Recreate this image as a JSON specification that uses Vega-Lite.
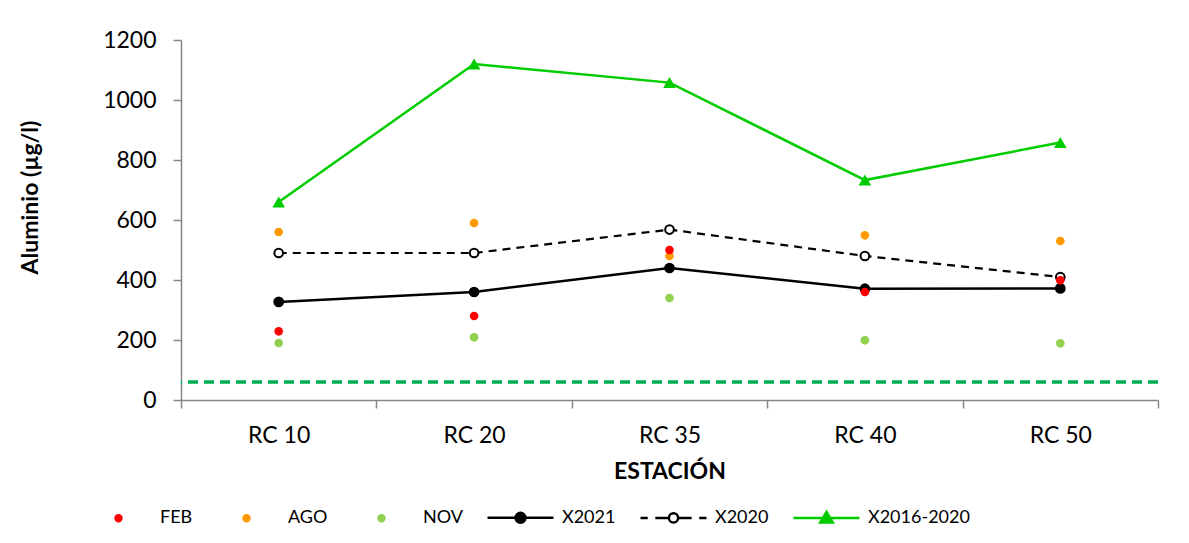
{
  "$schema": "https://vega.github.io/schema/vega-lite/v6.json",
  "width": 977,
  "height": 360,
  "autosize": {"type": "none"},
  "padding": {"left": 181, "top": 40, "right": 31, "bottom": 143},
  "background": "white",
  "config": {
    "font": "Lato",
    "view": {"stroke": null},
    "axis": {
      "domainColor": "#868686",
      "domainWidth": 1.5,
      "tickColor": "#868686",
      "tickWidth": 1.5,
      "tickSize": 8,
      "grid": false,
      "labelColor": "#000000",
      "labelFont": "Lato",
      "labelFontSize": 23,
      "titleColor": "#000000",
      "titleFont": "Lato",
      "titleFontSize": 23,
      "titleFontWeight": "bold"
    },
    "axisX": {"labelAngle": 0, "labelPadding": 16, "titlePadding": 13, "tickBand": "extent"},
    "axisY": {"labelPadding": 17, "titlePadding": 60, "titleY": 157}
  },
  "data": {
    "values": [
      {"station": "RC 10", "series": "FEB", "value": 229},
      {"station": "RC 20", "series": "FEB", "value": 280},
      {"station": "RC 35", "series": "FEB", "value": 500},
      {"station": "RC 40", "series": "FEB", "value": 360},
      {"station": "RC 50", "series": "FEB", "value": 399},
      {"station": "RC 10", "series": "AGO", "value": 560},
      {"station": "RC 20", "series": "AGO", "value": 590},
      {"station": "RC 35", "series": "AGO", "value": 480},
      {"station": "RC 40", "series": "AGO", "value": 549},
      {"station": "RC 50", "series": "AGO", "value": 530},
      {"station": "RC 10", "series": "NOV", "value": 190},
      {"station": "RC 20", "series": "NOV", "value": 209},
      {"station": "RC 35", "series": "NOV", "value": 340},
      {"station": "RC 40", "series": "NOV", "value": 199},
      {"station": "RC 50", "series": "NOV", "value": 189},
      {"station": "RC 10", "series": "X2021", "value": 327},
      {"station": "RC 20", "series": "X2021", "value": 360},
      {"station": "RC 35", "series": "X2021", "value": 440},
      {"station": "RC 40", "series": "X2021", "value": 371},
      {"station": "RC 50", "series": "X2021", "value": 372},
      {"station": "RC 10", "series": "X2020", "value": 490},
      {"station": "RC 20", "series": "X2020", "value": 490},
      {"station": "RC 35", "series": "X2020", "value": 568},
      {"station": "RC 40", "series": "X2020", "value": 480},
      {"station": "RC 50", "series": "X2020", "value": 410},
      {"station": "RC 10", "series": "X2016-2020", "value": 660},
      {"station": "RC 20", "series": "X2016-2020", "value": 1120},
      {"station": "RC 35", "series": "X2016-2020", "value": 1058},
      {"station": "RC 40", "series": "X2016-2020", "value": 733},
      {"station": "RC 50", "series": "X2016-2020", "value": 858}
    ]
  },
  "layer": [
    {
      "data": {"values": [{"limite": 60}]},
      "mark": {"type": "rule", "color": "#00B050", "strokeWidth": 3.5, "strokeDash": [10, 6]},
      "encoding": {
        "y": {"field": "limite", "type": "quantitative", "title": "Aluminio (µg/l)", "scale": {"domain": [0, 1200], "nice": false}, "axis": {"values": [0, 200, 400, 600, 800, 1000, 1200], "format": "d"}}
      }
    },
    {
      "transform": [{"filter": "datum.series === 'X2016-2020'"}],
      "mark": {"type": "line", "color": "#00CC00", "strokeWidth": 2.5},
      "encoding": {
        "x": {"field": "station", "type": "nominal", "sort": null, "title": "ESTACIÓN", "scale": {"type": "band", "paddingInner": 0, "paddingOuter": 0}},
        "y": {"field": "value", "type": "quantitative", "title": "Aluminio (µg/l)", "scale": {"domain": [0, 1200], "nice": false}, "axis": {"values": [0, 200, 400, 600, 800, 1000, 1200], "format": "d"}}
      }
    },
    {
      "transform": [{"filter": "datum.series === 'X2020'"}],
      "mark": {"type": "line", "color": "#000000", "strokeWidth": 2.2, "strokeDash": [8, 6]},
      "encoding": {
        "x": {"field": "station", "type": "nominal", "sort": null, "title": "ESTACIÓN", "scale": {"type": "band", "paddingInner": 0, "paddingOuter": 0}},
        "y": {"field": "value", "type": "quantitative", "title": "Aluminio (µg/l)", "scale": {"domain": [0, 1200], "nice": false}, "axis": {"values": [0, 200, 400, 600, 800, 1000, 1200], "format": "d"}}
      }
    },
    {
      "transform": [{"filter": "datum.series === 'X2021'"}],
      "mark": {"type": "line", "color": "#000000", "strokeWidth": 2.5},
      "encoding": {
        "x": {"field": "station", "type": "nominal", "sort": null, "title": "ESTACIÓN", "scale": {"type": "band", "paddingInner": 0, "paddingOuter": 0}},
        "y": {"field": "value", "type": "quantitative", "title": "Aluminio (µg/l)", "scale": {"domain": [0, 1200], "nice": false}, "axis": {"values": [0, 200, 400, 600, 800, 1000, 1200], "format": "d"}}
      }
    },
    {
      "transform": [{"filter": "datum.series === 'NOV'"}],
      "mark": {"type": "point", "shape": "circle", "filled": true, "color": "#92D050", "size": 75, "opacity": 1},
      "encoding": {
        "x": {"field": "station", "type": "nominal", "sort": null, "title": "ESTACIÓN", "scale": {"type": "band", "paddingInner": 0, "paddingOuter": 0}},
        "y": {"field": "value", "type": "quantitative", "title": "Aluminio (µg/l)", "scale": {"domain": [0, 1200], "nice": false}, "axis": {"values": [0, 200, 400, 600, 800, 1000, 1200], "format": "d"}}
      }
    },
    {
      "transform": [{"filter": "datum.series === 'AGO'"}],
      "mark": {"type": "point", "shape": "circle", "filled": true, "color": "#FF9900", "size": 75, "opacity": 1},
      "encoding": {
        "x": {"field": "station", "type": "nominal", "sort": null, "title": "ESTACIÓN", "scale": {"type": "band", "paddingInner": 0, "paddingOuter": 0}},
        "y": {"field": "value", "type": "quantitative", "title": "Aluminio (µg/l)", "scale": {"domain": [0, 1200], "nice": false}, "axis": {"values": [0, 200, 400, 600, 800, 1000, 1200], "format": "d"}}
      }
    },
    {
      "transform": [{"filter": "datum.series === 'X2016-2020'"}],
      "mark": {"type": "point", "shape": "triangle-up", "filled": true, "color": "#00CC00", "size": 160, "opacity": 1},
      "encoding": {
        "x": {"field": "station", "type": "nominal", "sort": null, "title": "ESTACIÓN", "scale": {"type": "band", "paddingInner": 0, "paddingOuter": 0}},
        "y": {"field": "value", "type": "quantitative", "title": "Aluminio (µg/l)", "scale": {"domain": [0, 1200], "nice": false}, "axis": {"values": [0, 200, 400, 600, 800, 1000, 1200], "format": "d"}}
      }
    },
    {
      "transform": [{"filter": "datum.series === 'X2020'"}],
      "mark": {"type": "point", "shape": "circle", "filled": false, "fill": "#FFFFFF", "stroke": "#000000", "strokeWidth": 2, "size": 75, "opacity": 1},
      "encoding": {
        "x": {"field": "station", "type": "nominal", "sort": null, "title": "ESTACIÓN", "scale": {"type": "band", "paddingInner": 0, "paddingOuter": 0}},
        "y": {"field": "value", "type": "quantitative", "title": "Aluminio (µg/l)", "scale": {"domain": [0, 1200], "nice": false}, "axis": {"values": [0, 200, 400, 600, 800, 1000, 1200], "format": "d"}}
      }
    },
    {
      "transform": [{"filter": "datum.series === 'X2021'"}],
      "mark": {"type": "point", "shape": "circle", "filled": true, "color": "#000000", "size": 115, "opacity": 1},
      "encoding": {
        "x": {"field": "station", "type": "nominal", "sort": null, "title": "ESTACIÓN", "scale": {"type": "band", "paddingInner": 0, "paddingOuter": 0}},
        "y": {"field": "value", "type": "quantitative", "title": "Aluminio (µg/l)", "scale": {"domain": [0, 1200], "nice": false}, "axis": {"values": [0, 200, 400, 600, 800, 1000, 1200], "format": "d"}}
      }
    },
    {
      "transform": [{"filter": "datum.series === 'FEB'"}],
      "mark": {"type": "point", "shape": "circle", "filled": true, "color": "#FF0000", "size": 75, "opacity": 1},
      "encoding": {
        "x": {"field": "station", "type": "nominal", "sort": null, "title": "ESTACIÓN", "scale": {"type": "band", "paddingInner": 0, "paddingOuter": 0}},
        "y": {"field": "value", "type": "quantitative", "title": "Aluminio (µg/l)", "scale": {"domain": [0, 1200], "nice": false}, "axis": {"values": [0, 200, 400, 600, 800, 1000, 1200], "format": "d"}}
      }
    },
    {
      "transform": [{"filter": "false"}],
      "mark": {"type": "point", "filled": true, "opacity": 1},
      "encoding": {
        "x": {"field": "station", "type": "nominal", "sort": null, "title": "ESTACIÓN", "scale": {"type": "band", "paddingInner": 0, "paddingOuter": 0}},
        "y": {"field": "value", "type": "quantitative", "title": "Aluminio (µg/l)", "scale": {"domain": [0, 1200], "nice": false}, "axis": {"values": [0, 200, 400, 600, 800, 1000, 1200], "format": "d"}},
        "fill": {
          "field": "series", "type": "nominal", "title": null,
          "scale": {"domain": ["FEB", "AGO", "NOV", "X2021", "X2020", "X2016-2020"], "range": ["#FF0000", "#FF9900", "#92D050", "#000000", "#FFFFFF", "#00CC00"]},
          "legend": {"orient": "none", "direction": "horizontal", "legendX": -97, "legendY": 443, "symbolSize": 4356, "symbolStrokeWidth": 2.5, "symbolOpacity": 1, "labelFontSize": 18, "labelFont": "Lato", "labelColor": "#000000", "labelOffset": 7, "columnPadding": 19, "gridAlign": "each"}
        },
        "stroke": {
          "field": "series", "type": "nominal", "title": null,
          "scale": {"domain": ["FEB", "AGO", "NOV", "X2021", "X2020", "X2016-2020"], "range": ["#FF0000", "#FF9900", "#92D050", "#000000", "#000000", "#00CC00"]},
          "legend": {"orient": "none", "direction": "horizontal", "legendX": -97, "legendY": 443, "symbolSize": 4356, "symbolStrokeWidth": 2.5, "symbolOpacity": 1, "labelFontSize": 18, "labelFont": "Lato", "labelColor": "#000000", "labelOffset": 7, "columnPadding": 19, "gridAlign": "each"}
        },
        "shape": {
          "field": "series", "type": "nominal", "title": null,
          "scale": {"domain": ["FEB", "AGO", "NOV", "X2021", "X2020", "X2016-2020"], "range": [
            "M-0.09,0A0.09,0.09 0 1,0 0.09,0A0.09,0.09 0 1,0 -0.09,0Z",
            "M-0.09,0A0.09,0.09 0 1,0 0.09,0A0.09,0.09 0 1,0 -0.09,0Z",
            "M-0.09,0A0.09,0.09 0 1,0 0.09,0A0.09,0.09 0 1,0 -0.09,0Z",
            "M-1,0H1M-0.15,0A0.15,0.15 0 1,0 0.15,0A0.15,0.15 0 1,0 -0.15,0Z",
            "M-1,0H-0.78M-0.55,0H-0.15M0.15,0H0.55M0.78,0H1M-0.14,0A0.14,0.14 0 1,0 0.14,0A0.14,0.14 0 1,0 -0.14,0Z",
            "M-1,0H1M0,-0.19L0.19,0.13L-0.19,0.13Z"
          ]},
          "legend": {"orient": "none", "direction": "horizontal", "legendX": -97, "legendY": 443, "symbolSize": 4356, "symbolStrokeWidth": 2.5, "symbolOpacity": 1, "labelFontSize": 18, "labelFont": "Lato", "labelColor": "#000000", "labelOffset": 7, "columnPadding": 19, "gridAlign": "each"}
        }
      }
    }
  ]
}
